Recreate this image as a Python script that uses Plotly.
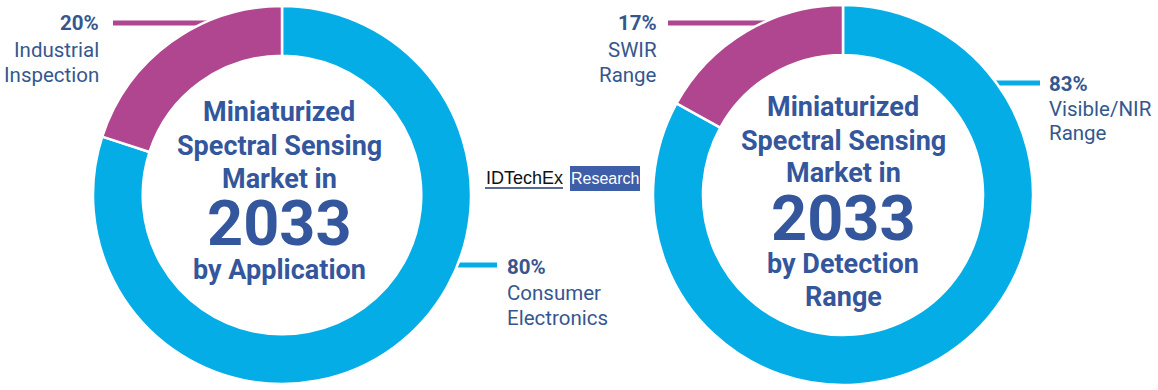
import plotly.graph_objects as go

W, H = 1158, 390

# Data
app_categories = ["Consumer Electronics", "Industrial Inspection"]
app_values = [80, 20]
det_categories = ["Visible/NIR Range", "SWIR Range"]
det_values = [83, 17]

BLUE = "#05ADE6"
MAGENTA = "#B0468F"
TEXT = "#34569C"
LABEL = "#36578E"


def px(x):
    return min(1.0, max(0.0, x / W))


def py(y):
    return min(1.0, max(0.0, 1 - y / H))


fig = go.Figure()

for cats, vals, (cx, cy, r) in [
    (app_categories, app_values, (282, 195, 189)),
    (det_categories, det_values, (843, 195, 190)),
]:
    fig.add_trace(go.Pie(
        labels=cats, values=vals, hole=0.737, sort=False, direction="clockwise",
        rotation=0, textinfo="none", hoverinfo="label+percent",
        marker=dict(colors=[BLUE, MAGENTA], line=dict(color="white", width=2.5)),
        domain=dict(x=[px(cx - r), px(cx + r)], y=[py(cy + r), py(cy - r)]),
        showlegend=False,
    ))

shapes = []
# leader lines (drawn below the rings)
for (x0, x1, y, c) in [(113, 215, 23, MAGENTA), (440, 497, 265, BLUE),
                       (668, 790, 23, MAGENTA), (980, 1040, 83, BLUE)]:
    shapes.append(dict(type="line", xref="paper", yref="paper", layer="below",
                       x0=px(x0), x1=px(x1), y0=py(y), y1=py(y),
                       line=dict(color=c, width=5)))
# logo box + underline
shapes.append(dict(type="rect", xref="paper", yref="paper", layer="above",
                   x0=px(570), x1=px(640), y0=py(191), y1=py(166),
                   fillcolor="#3E5EA8", line=dict(width=0)))
shapes.append(dict(type="line", xref="paper", yref="paper", layer="above",
                   x0=px(485), x1=px(563), y0=py(188), y1=py(188),
                   line=dict(color="#1F3A6E", width=1.5)))

ann = []


def txt(x, y, s, size, color=TEXT, bold=False, xanchor="center", family="Roboto"):
    ann.append(dict(x=px(x), y=py(y), xref="paper", yref="paper", text=s,
                    showarrow=False, xanchor=xanchor, yanchor="middle",
                    font=dict(family=family, size=size, color=color,
                              weight="bold" if bold else "normal")))


CS = 27
# center texts left
txt(279, 112, "Miniaturized", CS, bold=True)
txt(279, 146, "Spectral Sensing", CS, bold=True)
txt(279, 179, "Market in", CS, bold=True)
txt(279, 224, "2033", 63, bold=True)
txt(279, 270, "by Application", CS, bold=True)

# center texts right
txt(843, 107, "Miniaturized", CS, bold=True)
txt(843, 141, "Spectral Sensing", CS, bold=True)
txt(843, 173, "Market in", CS, bold=True)
txt(843, 218, "2033", 63, bold=True)
txt(843, 264, "by Detection", CS, bold=True)
txt(843, 297, "Range", CS, bold=True)

# outer labels
LS = 20.5
txt(101, 23, f"{app_values[1]}%", LS, LABEL, True, "right")
txt(101, 50, "Industrial", LS, LABEL, False, "right")
txt(101, 75, "Inspection", LS, LABEL, False, "right")

txt(505, 267, f"{app_values[0]}%", LS, LABEL, True, "left")
txt(505, 293, "Consumer", LS, LABEL, False, "left")
txt(505, 318, "Electronics", LS, LABEL, False, "left")

txt(659, 23, f"{det_values[1]}%", LS, LABEL, True, "right")
txt(659, 50, "SWIR", LS, LABEL, False, "right")
txt(659, 75, "Range", LS, LABEL, False, "right")

txt(1047, 84, f"{det_values[0]}%", LS, LABEL, True, "left")
txt(1047, 109, "Visible/NIR", LS, LABEL, False, "left")
txt(1047, 133, "Range", LS, LABEL, False, "left")

# logo
txt(484, 178, "IDTechEx", 18, "#111111", False, "left", "Liberation Sans")
txt(605, 179, "Research", 16, "white", False, "center", "Liberation Sans")

fig.update_layout(
    width=W, height=H, margin=dict(l=0, r=0, t=0, b=0),
    paper_bgcolor="white", plot_bgcolor="white",
    shapes=shapes, annotations=ann,
)

fig.write_html("out.html", config={"displayModeBar": False},
               post_script="document.body.style.margin='0px';")
